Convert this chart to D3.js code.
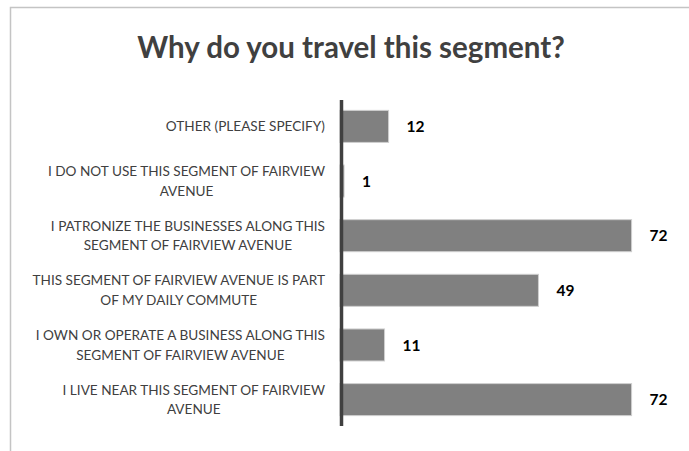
<!DOCTYPE html>
<html>
<head>
<meta charset="utf-8">
<script src="https://cdn.jsdelivr.net/npm/d3@7"></script>
<style>
  html, body { margin: 0; padding: 0; background: #fff; }
  svg { display: block; }
</style>
</head>
<body>
<svg id="chart" width="689" height="451"></svg>
<script>
// Survey responses, top to bottom
const categories = [
  "OTHER (PLEASE SPECIFY)",
  "I DO NOT USE THIS SEGMENT OF FAIRVIEW\nAVENUE",
  "I PATRONIZE THE BUSINESSES ALONG THIS\nSEGMENT OF FAIRVIEW AVENUE",
  "THIS SEGMENT OF FAIRVIEW AVENUE IS PART\nOF MY DAILY COMMUTE",
  "I OWN OR OPERATE A BUSINESS ALONG THIS\nSEGMENT OF FAIRVIEW AVENUE",
  "I LIVE NEAR THIS SEGMENT OF FAIRVIEW\nAVENUE"
];
const counts = [12, 1, 72, 49, 11, 72];
const title = "Why do you travel this segment?";

const svg = d3.select("#chart");
const font = "Lato, 'Open Sans', sans-serif";

// chart frame
svg.append("rect")
  .attr("x", 10.5).attr("y", 7.5)
  .attr("width", 700).attr("height", 460)
  .attr("fill", "none")
  .attr("stroke", "#c4c4c4")
  .attr("stroke-width", 1.5);

svg.append("text")
  .attr("x", 351).attr("y", 58)
  .attr("text-anchor", "middle")
  .attr("font-family", font)
  .attr("font-weight", "bold")
  .attr("font-size", 29.5)
  .attr("fill", "#404040")
  .text(title);

const x = d3.scaleLinear().domain([0, 80]).range([340, 664]);
const y = d3.scaleBand().domain(categories).range([100, 426])
  .paddingInner(0.414).paddingOuter(0.19);

// bars
svg.append("g").selectAll("rect")
  .data(categories)
  .join("rect")
  .attr("x", x(0))
  .attr("y", d => y(d))
  .attr("width", (d, i) => x(counts[i]) - x(0))
  .attr("height", y.bandwidth())
  .attr("fill", "#808080")
  .attr("stroke", "#cfcfcf")
  .attr("stroke-width", 1);

// value labels
svg.append("g").selectAll("text")
  .data(categories)
  .join("text")
  .attr("x", (d, i) => x(counts[i]) + 18)
  .attr("y", d => y(d) + y.bandwidth() / 2)
  .attr("dy", "0.36em")
  .attr("font-family", font)
  .attr("font-weight", "bold")
  .attr("font-size", 15.5)
  .attr("fill", "#000")
  .text((d, i) => counts[i]);

// category axis with wrapped, centred labels
const yAxis = d3.axisLeft(y).tickSize(0).tickPadding(0).tickFormat("");
const axisG = svg.append("g").attr("transform", "translate(325,0)").call(yAxis);
axisG.select(".domain").remove();

const lineH = 19.5;
axisG.selectAll(".tick").each(function(d) {
  const lines = d.split("\n");
  const t = d3.select(this).select("text")
    .attr("font-family", font)
    .attr("font-size", 13.6)
    .attr("fill", "#404040")
    .attr("text-anchor", "middle")
    .attr("x", 0)
    .attr("dy", null)
    .attr("y", 0);
  const spans = lines.map((ln, i) => t.append("tspan")
    .attr("x", 0)
    .attr("y", (i - (lines.length - 1) / 2) * lineH)
    .attr("dy", "0.36em")
    .text(ln));
  const maxW = d3.max(spans, s => s.node().getComputedTextLength());
  spans.forEach(s => s.attr("x", -maxW / 2));
});

// vertical axis line
svg.append("line")
  .attr("x1", x(0) + 1.5).attr("x2", x(0) + 1.5)
  .attr("y1", 100).attr("y2", 426)
  .attr("stroke", "#404040")
  .attr("stroke-width", 3.5);
</script>
</body>
</html>
